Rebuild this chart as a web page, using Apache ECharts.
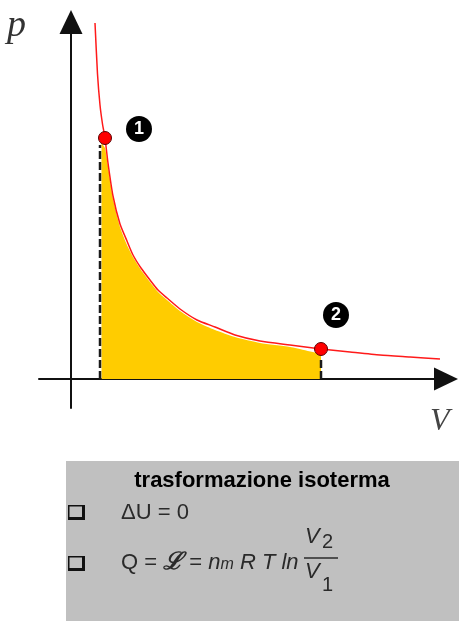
<!DOCTYPE html>
<html>
<head>
<meta charset="utf-8">
<title>trasformazione isoterma</title>
<script src="https://cdn.jsdelivr.net/npm/echarts@6.0.0/dist/echarts.min.js"></script>
<style>
  html, body { margin: 0; padding: 0; background: #fff; }
  #chart { width: 459px; height: 621px; }
</style>
</head>
<body>
<div id="chart"></div>
<script>
// isoterma nel piano p-V (unità arbitrarie)
const curveV = [0.96, 1.06, 1.16, 1.26, 1.36, 1.48, 1.68, 1.96, 2.24, 2.48, 2.8, 3.16, 3.48, 3.84,
  4.36, 5.04, 5.76, 6.56, 7.56, 8.76, 10.0, 11.16, 12.36, 13.56, 14.76];
const curveP = [14.24, 12.2, 10.96, 10.2, 9.64, 8.64, 7.32, 6.2, 5.52, 4.96, 4.44, 3.96, 3.56, 3.24,
  2.8, 2.36, 2.08, 1.76, 1.52, 1.36, 1.2, 1.08, 0.96, 0.88, 0.8];

// area gialla sotto la curva tra V1 e V2
const areaV = [1.22, 1.36, 1.48, 1.68, 1.96, 2.24, 2.48, 2.8, 3.16, 3.48, 3.84, 4.36, 5.04, 5.76, 6.56, 7.56, 8.76, 10.0];
const areaP = [9.44, 9.24, 8.52, 7.2, 6.08, 5.36, 4.88, 4.36, 3.88, 3.48, 3.16, 2.72, 2.28, 1.96, 1.68, 1.44, 1.28, 1.0];

// stati 1 e 2
const stateNames = ['1', '2'];
const stateV = [1.36, 10.0];
const stateP = [9.64, 1.2];

// tratteggi verticali (V, p in alto)
const dashV = [1.16, 10.0];
const dashTop = [9.36, 0.76];

// estremi degli assi
const vRange = [-1.28, 15];
const pRange = [-1.16, 14.28];

const chart = echarts.init(document.getElementById('chart'));

const axisLine = {
  onZero: true,
  symbol: ['none', 'triangle'],
  symbolSize: [23, 24],
  lineStyle: { color: '#111', width: 2 },
};

const labelOffsets = { '1': [34, -9], '2': [15, -34] };

const option = {
  animation: false,
  grid: { left: 39, right: 13, top: 22, bottom: 213 },
  xAxis: {
    type: 'value',
    min: vRange[0],
    max: vRange[1],
    axisLine: axisLine,
    axisTick: { show: false },
    axisLabel: { show: false },
    splitLine: { show: false },
  },
  yAxis: {
    type: 'value',
    min: pRange[0],
    max: pRange[1],
    axisLine: axisLine,
    axisTick: { show: false },
    axisLabel: { show: false },
    splitLine: { show: false },
  },
  series: [
    {
      type: 'line',
      data: areaV.map((v, i) => [v, areaP[i]]),
      smooth: 0.2,
      symbol: 'none',
      silent: true,
      lineStyle: { width: 0 },
      areaStyle: { color: '#ffcc00', opacity: 1 },
      z: 1,
    },
    // tratteggi
    ...dashV.map((v, i) => ({
      type: 'line',
      data: [[v, 0], [v, dashTop[i]]],
      symbol: 'none',
      silent: true,
      lineStyle: { color: '#1a1a1a', width: 2.5, type: [8, 3] },
      z: 2,
    })),
    {
      type: 'line',
      data: curveV.map((v, i) => [v, curveP[i]]),
      smooth: 0.2,
      symbol: 'none',
      silent: true,
      lineStyle: { color: '#ff1a1a', width: 1.5 },
      z: 3,
    },
    {
      type: 'scatter',
      data: stateNames.map((n, i) => ({
        name: n,
        value: [stateV[i], stateP[i]],
        label: { offset: labelOffsets[n] },
      })),
      symbolSize: 13,
      itemStyle: { color: '#ff0000', borderColor: '#5a0000', borderWidth: 1, opacity: 1 },
      label: {
        show: true,
        position: 'inside',
        formatter: '{b}',
        color: '#fff',
        fontFamily: 'Liberation Sans',
        fontWeight: 'bold',
        fontSize: 18,
        backgroundColor: '#000',
        width: 26,
        height: 26,
        lineHeight: 26,
        borderRadius: 13,
        align: 'center',
        verticalAlign: 'middle',
      },
      z: 4,
    },
  ],
  graphic: [
    { type: 'text', x: 7, y: 26, style: { text: 'p', font: 'italic 38px "Liberation Serif"', fill: '#333', verticalAlign: 'middle' } },
    { type: 'text', x: 430, y: 422, style: { text: 'V', font: 'italic 32px "Liberation Serif"', fill: '#444', verticalAlign: 'middle' } },
    // riquadro grigio
    { type: 'rect', shape: { x: 66, y: 461, width: 393, height: 160 }, style: { fill: '#c0c0c0' } },
    { type: 'text', x: 262, y: 481, style: { text: 'trasformazione isoterma', font: 'bold 22px "Liberation Sans"', fill: '#000', align: 'center', verticalAlign: 'middle' } },
    { type: 'rect', shape: { x: 68, y: 505, width: 17, height: 15 }, style: { fill: '#111' } },
    { type: 'rect', shape: { x: 69.5, y: 506.5, width: 12.5, height: 10.5 }, style: { fill: '#c0c0c0' } },
    { type: 'rect', shape: { x: 68, y: 556, width: 17, height: 15 }, style: { fill: '#111' } },
    { type: 'rect', shape: { x: 69.5, y: 557.5, width: 12.5, height: 10.5 }, style: { fill: '#c0c0c0' } },
    { type: 'text', x: 121, y: 513, style: { text: 'ΔU = 0', font: '22px "Liberation Sans"', fill: '#2a2a2a', verticalAlign: 'middle' } },
    {
      type: 'text', x: 121, y: 563,
      style: {
        text: '{r|Q = }{s|ℒ}{r| = }{i|n}{m|m}{i| R T ln}',
        verticalAlign: 'middle',
        rich: {
          r: { font: '22px "Liberation Sans"', fill: '#2a2a2a' },
          s: { font: 'italic bold 24px "DejaVu Serif"', fill: '#2a2a2a' },
          i: { font: 'italic 22px "Liberation Sans"', fill: '#2a2a2a' },
          m: { font: 'italic 16px "Liberation Sans"', fill: '#2a2a2a', padding: [4, 0, 0, 0] },
        },
      },
    },
    { type: 'text', x: 305, y: 537, style: { text: 'V', font: 'italic 22px "Liberation Sans"', fill: '#2a2a2a', verticalAlign: 'middle' } },
    { type: 'text', x: 322, y: 542, style: { text: '2', font: '20px "Liberation Sans"', fill: '#2a2a2a', verticalAlign: 'middle' } },
    { type: 'line', shape: { x1: 304, y1: 558, x2: 338, y2: 558 }, style: { stroke: '#2a2a2a', lineWidth: 1.5 } },
    { type: 'text', x: 305, y: 572, style: { text: 'V', font: 'italic 22px "Liberation Sans"', fill: '#2a2a2a', verticalAlign: 'middle' } },
    { type: 'text', x: 322, y: 585, style: { text: '1', font: '20px "Liberation Sans"', fill: '#2a2a2a', verticalAlign: 'middle' } },
  ],
};

chart.setOption(option);
window.addEventListener('resize', () => chart.resize());
</script>
</body>
</html>
